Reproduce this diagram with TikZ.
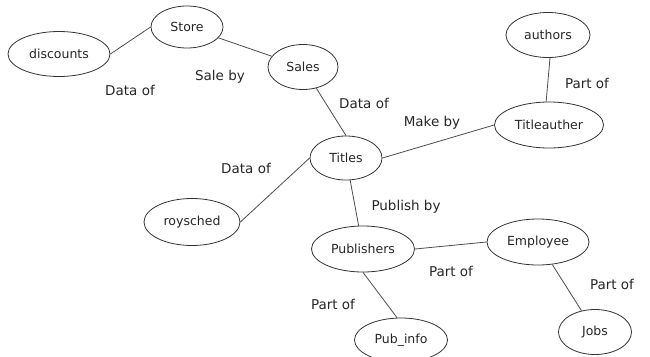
\documentclass[tikz,border=0pt]{standalone}
\usepackage{fontspec}
\setmainfont{DejaVu Sans}
\usetikzlibrary{shapes.geometric}
\tikzstyle{entity} = [ellipse, draw=black!80, line width=0.8pt, inner sep=0pt, text centered, font=\fontsize{12.5}{15}\selectfont, text=black!85]
\tikzstyle{rel} = [inner sep=1pt, font=\fontsize{13.5}{16}\selectfont, text=black!85]
\tikzstyle{conn} = [draw=black!70, line width=0.8pt]

\begin{document}
\begin{tikzpicture}[x=1pt,y=-1pt]
\useasboundingbox (0,0) rectangle (650,356);

\node (discounts) [entity, minimum width=102pt, minimum height=45pt] at (59,54) {discounts};
\node (store) [entity, minimum width=72pt, minimum height=42pt] at (187,27) {Store};
\node (sales) [entity, minimum width=70pt, minimum height=45pt] at (303,67) {Sales};
\node (titles) [entity, minimum width=72pt, minimum height=44pt] at (346,158) {Titles};
\node (authors) [entity, minimum width=84pt, minimum height=45pt] at (548,35) {authors};
\node (titleauther) [entity, minimum width=109pt, minimum height=46pt] at (549,125) {Titleauther};
\node (roysched) [entity, minimum width=96pt, minimum height=47pt] at (192,222) {roysched};
\node (publishers) [entity, minimum width=103pt, minimum height=46pt] at (363,249) {Publishers};
\node (employee) [entity, minimum width=102pt, minimum height=46pt] at (538,242) {Employee};
\node (pubinfo) [entity, minimum width=93pt, minimum height=44pt] at (401,340) {Pub\_info};
\node (jobs) [entity, minimum width=73pt, minimum height=45pt] at (595,332) {Jobs};

\node (lbl1) [rel] at (130,90) {Data of};
\node (lbl2) [rel] at (220,77) {Sale by};
\node (lbl3) [rel] at (364,103) {Data of};
\node (lbl4) [rel] at (432,123) {Make by};
\node (lbl5) [rel] at (587,83) {Part of};
\node (lbl6) [rel] at (246,168) {Data of};
\node (lbl7) [rel] at (406,207) {Publish by};
\node (lbl8) [rel] at (451,271) {Part of};
\node (lbl9) [rel] at (333,304) {Part of};
\node (lbl10) [rel] at (612,284) {Part of};

\draw [conn] (discounts.east) -- (store.west);
\draw [conn] (store) -- (sales);
\draw [conn] (sales) -- (titles.north);
\draw [conn] (authors.-85) -- (titleauther.97);
\draw [conn] (titles.east) -- (titleauther.west);
\draw [conn] (titles.west) -- (roysched.east);
\draw [conn] (titles) -- (publishers);
\draw [conn] (publishers.east) -- (employee.west);
\draw [conn] (publishers.south) -- (pubinfo.100);
\draw [conn] (employee) -- (jobs);

\end{tikzpicture}
\end{document}
